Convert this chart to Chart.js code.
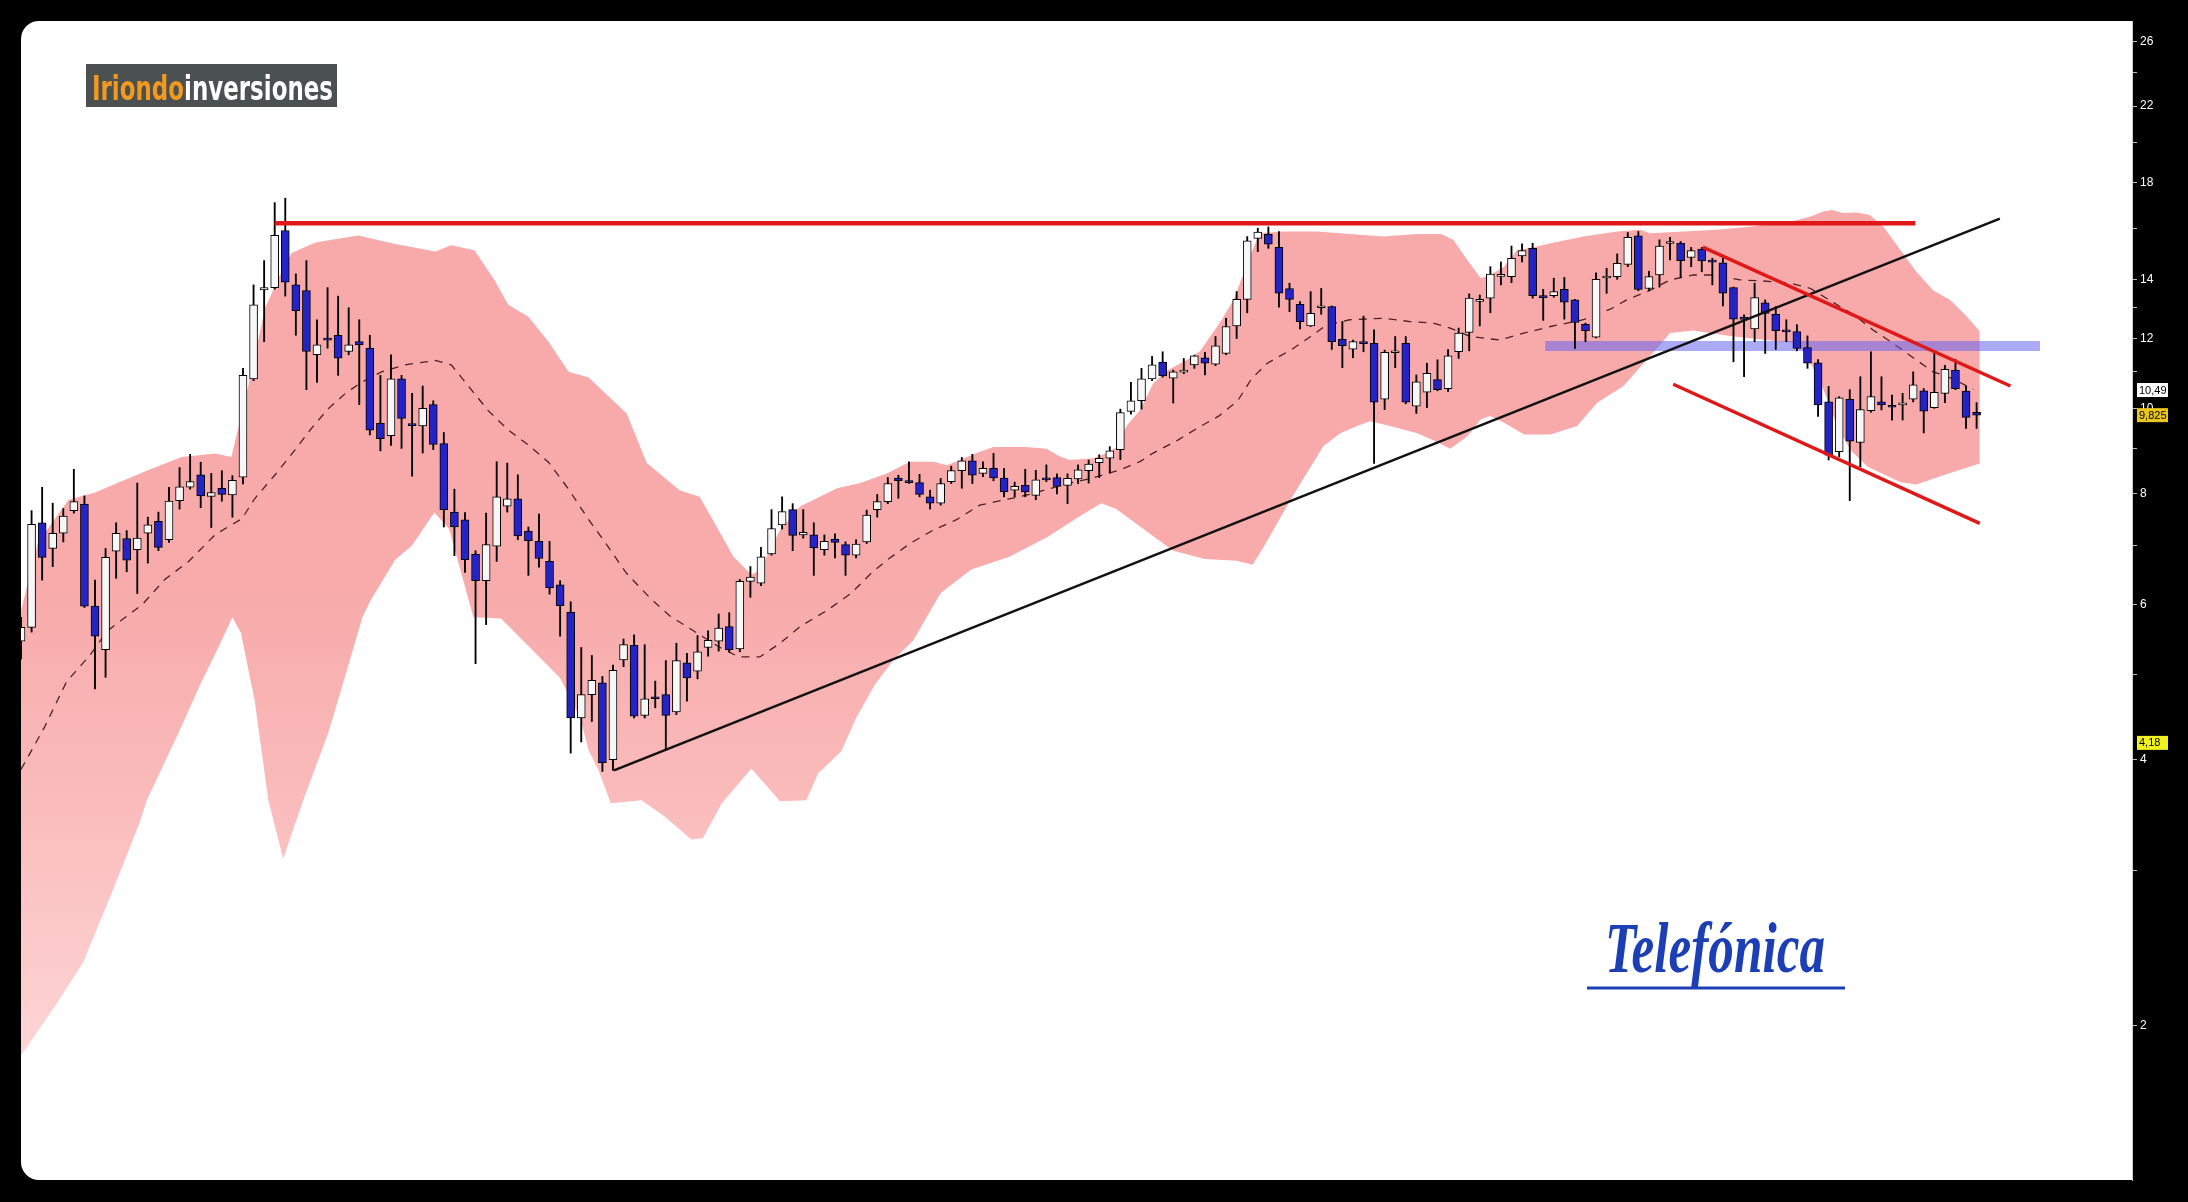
<!DOCTYPE html>
<html>
<head>
<meta charset="utf-8">
<title>Telefónica - Iriondo inversiones</title>
<script src="https://cdn.jsdelivr.net/npm/chart.js@4.4.1/dist/chart.umd.min.js"></script>
<style>
  html, body { margin: 0; padding: 0; background: #000; }
  #wrap { width: 2188px; height: 1202px; }
</style>
</head>
<body>
<div id="wrap"><canvas id="grafic" width="2188" height="1202"></canvas></div>
<script>
// Espelmes setmanals (obertura, màxim, mínim, tancament)
const obertures = [
  5.45, 5.65, 7.42, 6.94, 7.22, 7.66, 7.79, 5.97, 5.33, 6.89,
  7.12, 6.92, 7.22, 7.45, 7.10, 7.86, 8.14, 8.41, 7.95, 8.12,
  7.98, 8.36, 10.8, 13.62, 13.7, 15.9, 13.8, 13.6, 11.5, 12.0,
  12.1, 11.6, 11.9, 11.7, 9.62, 9.31, 10.8, 9.60, 9.55, 10.1,
  9.12, 7.63, 7.48, 6.84, 6.38, 6.98, 7.75, 7.90, 7.26, 7.07,
  6.71, 6.31, 5.88, 4.46, 4.74, 4.89, 4.00, 5.19, 5.39, 4.49,
  4.71, 4.74, 4.53, 5.15, 5.04, 5.36, 5.45, 5.66, 5.34, 6.37,
  6.34, 6.84, 7.38, 7.68, 7.19, 7.19, 6.92, 7.11, 7.01, 6.82,
  7.06, 7.68, 7.84, 8.34, 8.28, 8.24, 7.94, 7.81, 8.26, 8.50,
  8.72, 8.44, 8.55, 8.34, 8.08, 8.18, 7.97, 8.34, 8.35, 8.18,
  8.32, 8.50, 8.68, 8.78, 8.98, 9.92, 10.2, 10.8, 11.28, 10.82,
  10.99, 11.20, 11.41, 11.22, 11.54, 12.40, 13.29, 15.58, 15.74, 15.22,
  13.67, 13.12, 12.40, 13.0, 13.04, 11.97, 11.67, 11.86, 11.85, 10.24,
  11.56, 11.85, 10.06, 10.43, 10.78, 10.53, 11.59, 12.19, 13.22, 13.33,
  14.11, 14.10, 14.88, 15.18, 13.37, 13.42, 13.64, 13.27, 12.45, 12.04,
  14.05, 14.10, 14.56, 15.68, 13.67, 14.16, 15.37, 15.38, 14.82, 15.15,
  14.66, 14.62, 13.70, 12.63, 12.30, 13.17, 12.78, 12.23, 12.22, 11.72,
  11.26, 10.17, 8.93, 10.24, 9.15, 9.94, 10.17, 10.05, 10.09, 10.24,
  10.47, 10.02, 10.40, 11.05, 10.46, 9.90
];
const maxims = [
  5.80, 7.66, 8.14, 7.81, 7.70, 8.53, 7.96, 6.39, 6.94, 7.42,
  7.27, 8.23, 7.53, 7.63, 8.14, 8.57, 8.87, 8.69, 8.44, 8.50,
  8.39, 11.1, 13.8, 14.7, 17.1, 17.3, 14.2, 14.7, 12.6, 13.7,
  13.4, 13.0, 12.6, 12.1, 10.9, 11.5, 10.9, 10.4, 10.6, 10.2,
  9.39, 8.10, 7.62, 6.90, 7.61, 8.70, 8.67, 8.41, 7.34, 7.59,
  7.07, 6.38, 6.04, 5.36, 5.25, 4.97, 5.12, 5.48, 5.54, 5.40,
  4.91, 5.18, 5.42, 5.28, 5.53, 5.60, 5.85, 5.87, 6.40, 6.62,
  6.96, 7.68, 7.94, 7.80, 7.68, 7.42, 7.19, 7.21, 7.06, 7.10,
  7.67, 7.99, 8.35, 8.40, 8.70, 8.42, 8.08, 8.33, 8.60, 8.80,
  8.87, 8.70, 8.89, 8.55, 8.25, 8.53, 8.51, 8.63, 8.43, 8.43,
  8.63, 8.74, 8.86, 9.05, 9.98, 10.7, 11.1, 11.45, 11.59, 11.05,
  11.39, 11.49, 11.57, 12.06, 12.65, 13.56, 15.65, 16.0, 16.05, 15.86,
  13.86, 13.21, 13.56, 13.67, 13.06, 12.54, 11.95, 12.72, 12.27, 11.64,
  12.06, 12.06, 10.91, 11.25, 11.35, 11.66, 12.33, 13.48, 13.44, 14.47,
  14.65, 15.27, 15.36, 15.38, 13.64, 14.04, 14.07, 13.29, 12.49, 14.24,
  14.41, 14.96, 15.82, 15.86, 14.30, 15.52, 15.62, 15.45, 15.22, 15.22,
  14.79, 14.79, 13.72, 12.76, 13.86, 13.27, 13.04, 12.60, 12.44, 12.08,
  11.36, 10.59, 10.31, 10.50, 10.86, 11.59, 10.86, 10.35, 10.40, 11.00,
  10.53, 11.59, 11.19, 11.36, 10.59, 10.15
];
const minims = [
  5.20, 5.58, 6.39, 6.62, 7.06, 7.61, 5.95, 4.81, 4.96, 6.42,
  6.53, 6.17, 6.68, 6.90, 7.05, 7.69, 8.10, 7.72, 7.33, 7.85,
  7.53, 8.21, 10.75, 11.9, 13.65, 13.4, 12.1, 10.5, 10.7, 11.7,
  10.9, 11.5, 10.1, 9.33, 8.95, 9.08, 9.01, 8.38, 8.9, 8.98,
  7.34, 6.81, 6.52, 5.14, 5.69, 6.71, 7.63, 7.10, 6.47, 6.61,
  6.16, 5.52, 4.07, 4.19, 4.42, 3.88, 3.89, 5.10, 4.46, 4.46,
  4.58, 4.10, 4.50, 4.66, 4.94, 5.24, 5.31, 5.30, 5.30, 6.11,
  6.30, 6.82, 7.30, 6.90, 7.13, 6.47, 6.82, 6.77, 6.47, 6.77,
  7.03, 7.53, 7.80, 7.91, 8.22, 7.94, 7.69, 7.77, 8.22, 8.12,
  8.22, 8.37, 8.28, 7.94, 7.94, 7.94, 7.88, 8.26, 8.00, 7.80,
  8.22, 8.23, 8.35, 8.45, 8.75, 9.85, 9.98, 10.75, 10.85, 10.14,
  10.95, 11.10, 10.91, 11.18, 11.50, 12.00, 12.83, 15.05, 15.18, 13.02,
  12.87, 12.30, 12.38, 12.78, 11.66, 11.12, 11.41, 11.59, 8.66, 9.97,
  11.12, 10.12, 9.87, 10.02, 10.47, 10.45, 11.39, 11.62, 12.40, 12.83,
  13.80, 13.88, 14.65, 13.33, 12.58, 13.36, 12.62, 11.69, 11.90, 12.02,
  13.50, 14.00, 14.47, 13.59, 13.60, 13.72, 14.73, 14.07, 14.47, 14.28,
  13.80, 13.06, 11.29, 10.86, 11.90, 11.54, 11.66, 11.90, 11.62, 11.10,
  9.79, 8.74, 8.81, 7.86, 8.59, 9.90, 9.96, 9.70, 9.70, 10.17,
  9.38, 10.00, 10.15, 10.50, 9.49, 9.49
];
const tancaments = [
  5.65, 7.39, 6.78, 7.22, 7.55, 7.84, 5.97, 5.52, 6.78, 7.22,
  6.73, 7.13, 7.38, 6.96, 7.85, 8.15, 8.26, 7.96, 8.03, 7.99,
  8.29, 10.9, 13.1, 13.7, 15.7, 13.9, 12.9, 11.6, 11.8, 11.95,
  11.4, 11.8, 11.8, 9.45, 9.24, 10.8, 9.74, 9.56, 10.0, 9.10,
  7.68, 7.34, 6.74, 6.38, 7.01, 7.94, 7.90, 7.17, 7.08, 6.76,
  6.26, 5.98, 4.46, 4.74, 4.92, 3.97, 5.05, 5.40, 4.48, 4.69,
  4.69, 4.49, 5.18, 4.95, 5.30, 5.46, 5.64, 5.33, 6.37, 6.44,
  6.79, 7.31, 7.64, 7.18, 7.24, 6.95, 7.07, 7.05, 6.82, 7.02,
  7.57, 7.84, 8.22, 8.28, 8.24, 7.99, 7.81, 8.22, 8.50, 8.72,
  8.40, 8.55, 8.34, 8.04, 8.16, 8.04, 8.30, 8.30, 8.16, 8.33,
  8.52, 8.65, 8.78, 8.95, 9.89, 10.2, 10.8, 11.2, 10.88, 11.0,
  11.01, 11.47, 11.25, 11.77, 12.38, 13.29, 15.48, 15.84, 15.34, 13.50,
  13.29, 12.54, 12.81, 13.03, 11.90, 11.78, 11.90, 11.84, 10.16, 11.57,
  11.58, 10.16, 10.72, 10.96, 10.50, 11.47, 12.17, 13.33, 13.26, 14.19,
  14.13, 14.79, 15.09, 13.42, 13.35, 13.56, 13.19, 12.51, 12.25, 14.00,
  14.07, 14.60, 15.62, 13.64, 14.10, 15.27, 15.39, 14.70, 15.09, 14.69,
  14.64, 13.50, 12.62, 12.61, 13.35, 12.81, 12.25, 12.21, 11.69, 11.25,
  10.09, 8.85, 10.28, 9.18, 9.97, 10.31, 10.09, 10.03, 10.13, 10.63,
  9.93, 10.43, 11.07, 10.53, 9.77, 9.825
];

// Bandes de Bollinger llegides del gràfic: [setmana, valor]
const bandaSup = [
  [0, 5.9], [1.6, 7.05], [4.5, 7.88], [7, 8.03], [8.9, 8.21], [12, 8.51], [15.2, 8.81], [18.4, 8.89],
  [19.9, 8.81], [21.5, 10.6], [23.1, 13.0], [24.3, 14.0], [25.6, 15.0], [27.8, 15.4], [29.1, 15.5],
  [31.9, 15.7], [35.4, 15.35], [39.2, 15.05], [40.7, 15.3], [42.9, 15.1], [44.8, 13.97], [46.1, 13.1],
  [48, 12.7], [49.9, 11.9], [51.8, 11.0], [53.7, 10.84], [55.2, 10.42], [57.3, 9.87], [59.2, 8.67],
  [62.3, 8.08], [64.2, 7.94], [65.8, 7.35], [67.4, 6.79], [69.1, 6.48], [69.9, 6.56], [71.8, 7.28],
  [73.7, 7.74], [77.2, 8.12], [79.4, 8.23], [81.9, 8.44], [84.1, 8.70], [86.3, 8.70], [87.6, 8.62],
  [90.7, 8.93], [92, 9.04], [95.1, 9.04], [97, 9.0], [98.3, 8.82], [99.2, 8.74], [101.5, 8.78],
  [102.7, 8.90], [103.7, 9.04], [104.6, 9.56], [105.9, 9.97], [107.1, 10.67], [108.4, 11.03],
  [110.3, 11.35], [111.5, 11.6], [113.4, 12.49], [114.7, 13.27], [116.6, 15.22], [117.2, 15.79],
  [119.4, 15.86], [122.6, 15.86], [125.7, 15.76], [128.9, 15.65], [132.1, 15.76], [134.3, 15.76],
  [135.5, 15.52], [136.8, 14.73], [138.1, 14.04], [139, 14.16], [140.3, 14.47], [141.5, 15.1],
  [143.1, 15.22], [144.7, 15.38], [147.8, 15.65], [151, 15.86], [153.2, 15.93], [154.1, 15.79],
  [157.3, 15.86], [160.4, 15.93], [163.6, 16.06], [167.4, 16.27], [169.3, 16.49], [170.5, 16.71],
  [171.3, 16.78], [172.4, 16.64], [173.7, 16.67], [174.9, 16.56], [176.2, 16.06], [177.8, 15.1],
  [179.3, 14.28], [180.9, 13.6], [182.5, 13.27], [184.1, 12.7], [185.3, 12.22]
];
const bandaMitja = [
  [0, 3.9], [2.2, 4.35], [4.3, 4.9], [6.5, 5.25], [8.2, 5.6], [11.5, 6.0], [13.6, 6.4], [15.8, 6.7],
  [18.4, 7.2], [20.9, 7.5], [22.1, 7.9], [24, 8.4], [26, 9.0], [27.5, 9.5], [29.1, 10.0], [30.7, 10.4],
  [32.2, 10.7], [34.1, 11.0], [36.3, 11.2], [39.2, 11.33], [40.7, 11.2], [42.6, 10.5], [44.2, 9.94],
  [46.1, 9.45], [48, 9.09], [49.9, 8.69], [51.8, 8.10], [53.7, 7.48], [55, 7.12], [57.3, 6.50],
  [59.5, 6.1], [61.3, 5.83], [63.5, 5.61], [66, 5.37], [67.9, 5.23], [69.9, 5.23], [71.8, 5.42],
  [73.7, 5.66], [76.3, 5.91], [78.5, 6.17], [80.4, 6.50], [81.9, 6.73], [84.1, 7.03], [86.3, 7.28],
  [88.5, 7.48], [90.7, 7.77], [93.5, 7.9], [95.4, 7.99], [99, 8.22], [101.4, 8.34], [104, 8.52],
  [105.9, 8.71], [107.1, 8.9], [109.4, 9.2], [111.3, 9.5], [113.3, 9.8], [115.1, 10.2], [116.4, 10.8],
  [117.9, 11.25], [120.1, 11.64], [122, 12.06], [123.5, 12.43], [125.7, 12.60], [128.9, 12.65],
  [131.4, 12.54], [133.6, 12.49], [135.2, 12.33], [137.1, 12.06], [139.9, 11.95], [141.5, 12.11],
  [144.7, 12.38], [147.8, 12.60], [150.4, 12.96], [151.9, 13.27], [154.1, 13.6], [156, 13.98],
  [158.2, 14.16], [160.4, 14.16], [162.6, 13.98], [164.8, 13.94], [167.4, 13.86], [169.3, 13.67],
  [171.3, 13.21], [173.4, 12.76], [175.2, 12.27], [177.1, 11.85], [179, 11.41], [180.9, 11.0],
  [182.8, 10.8], [184.7, 10.5]
];
const bandaInf = [
  [0, 1.85], [3.3, 2.11], [5.9, 2.36], [8.6, 2.83], [11.2, 3.39], [11.9, 3.60], [14.9, 4.29],
  [17, 4.88], [18.7, 5.37], [20, 5.80], [20.8, 5.57], [22.1, 4.67], [23.4, 3.6], [24.8, 3.09],
  [26.7, 3.6], [29.1, 4.3], [30.5, 4.9], [32.3, 5.8], [33.1, 6.07], [35.4, 6.74], [37, 7.0],
  [39.1, 7.62], [40.5, 7.3], [42.8, 5.80], [45.4, 5.78], [48, 5.38], [51, 4.95], [52.9, 4.46],
  [53.7, 4.1], [54.6, 3.9], [55.8, 3.57], [58.7, 3.60], [60.9, 3.45], [63.4, 3.25], [64.5, 3.26],
  [66.3, 3.57], [69.1, 3.91], [71.8, 3.59], [74.3, 3.60], [75.4, 3.86], [77.6, 4.09], [79, 4.46],
  [80.8, 4.87], [82.6, 5.20], [84.4, 5.46], [87, 6.18], [89.9, 6.57], [93.5, 6.79], [97.1, 7.15],
  [100, 7.53], [102.2, 7.81], [103.6, 7.69], [106.8, 7.21], [109, 6.9], [112, 6.75], [115, 6.72],
  [116.5, 6.65], [117.5, 6.95], [120.1, 7.88], [122, 8.59], [123.2, 9.06], [124.8, 9.37],
  [126.4, 9.55], [127.6, 9.67], [129.5, 9.55], [132.1, 9.37], [133.6, 9.2], [135.2, 9.0],
  [136.8, 9.29], [138.1, 9.72], [139, 9.80], [140.3, 9.63], [142.2, 9.34], [144.7, 9.34],
  [147.2, 9.55], [149.1, 10.15], [151.6, 10.6], [153.2, 11.15], [154.1, 11.45], [156, 12.17],
  [158.2, 12.25], [162, 12.06], [165.1, 11.95], [168, 11.85], [169, 11.41], [170, 10.86],
  [170.9, 10.23], [171.8, 9.55], [173.1, 8.96], [174.7, 8.59], [177.8, 8.25], [179.3, 8.2],
  [182.5, 8.45], [185.3, 8.66]
];

// Línies de tendència: [setmana, preu]
const liniaSostre = [[24, 16.2], [179.2, 16.2]];
const liniaSuport = [[56.1, 3.89], [187.2, 16.4]];
const liniaBlava = [[144.2, 11.77], [191, 11.77]];
const canalSup = [[159.1, 15.23], [188.2, 10.60]];
const canalInf = [[156.3, 10.65], [185.3, 7.41]];

// Eix de preus
const ticksEtiqueta = [2, 4, 6, 8, 10, 12, 14, 18, 22, 26];
const ticksMenors = [3, 5, 7, 9, 11, 13, 16, 20, 24];
const etiquetesPreu = [10.49, 9.825, 4.18];

// Preparem les dades per al gràfic
const setmanes = obertures.map((_, i) => i);
const metxes = setmanes.map(i => ({ x: i, y: [minims[i], maxims[i]] }));
const cossos = setmanes.map(i => ({ x: i, y: [obertures[i], tancaments[i]] }));
const colorsCos = setmanes.map(i => tancaments[i] >= obertures[i] ? '#f7f7f7' : '#2424c6');
const aPunts = arr => arr.map(p => ({ x: p[0], y: p[1] }));

const liniaRecta = (punts, color, gruix, ordre) => ({
    type: 'line',
    data: aPunts(punts),
    borderColor: color,
    borderWidth: gruix,
    pointRadius: 0,
    fill: false,
    order: ordre
});

// Fons negre amb el panell blanc
const fons = {
    id: 'fons',
    beforeDraw(chart) {
        const c = chart.ctx;
        const a = chart.chartArea;
        c.save();
        c.fillStyle = '#000';
        c.fillRect(0, 0, chart.width, chart.height);
        c.fillStyle = '#fff';
        c.beginPath();
        c.roundRect(a.left, a.top, a.right - a.left + 1, a.bottom - a.top, [18, 0, 0, 18]);
        c.fill();
        c.restore();
    }
};

// Logotips i etiquetes de preu
const extres = {
    id: 'extres',
    afterDraw(chart) {
        const c = chart.ctx;
        c.save();

        // Iriondo inversiones
        c.fillStyle = '#4b5151';
        c.fillRect(86, 64, 251, 43);
        c.font = "bold 28px 'DejaVu Sans Condensed', 'Liberation Sans Narrow', sans-serif";
        const w1 = c.measureText('Iriondo').width;
        const w2 = c.measureText('inversiones').width;
        c.save();
        c.translate(92, 100);
        c.scale(241 / (w1 + w2), 1.18);
        c.textBaseline = 'alphabetic';
        c.fillStyle = '#f39a1e';
        c.fillText('Iriondo', 0, 0);
        c.fillStyle = '#fff';
        c.fillText('inversiones', w1, 0);
        c.restore();

        // Telefónica
        c.font = "italic bold 72px 'Liberation Serif', 'DejaVu Serif', serif";
        const wt = c.measureText('Telefónica').width;
        c.save();
        c.translate(1605, 972);
        c.scale(220 / wt, 1);
        c.fillStyle = '#1d3fb5';
        c.fillText('Telefónica', 0, 0);
        c.restore();
        c.strokeStyle = '#1d3fb5';
        c.lineWidth = 3;
        c.beginPath();
        c.moveTo(1587, 988);
        c.lineTo(1845, 988);
        c.stroke();

        // Etiquetes a l'eix
        const y = chart.scales.y;
        const fonsEtiqueta = ['#ffffff', '#e8c61a', '#f2f21e'];
        c.font = "11px 'Liberation Sans', Arial, sans-serif";
        c.textBaseline = 'middle';
        etiquetesPreu.forEach((v, k) => {
            const py = y.getPixelForValue(v);
            c.fillStyle = fonsEtiqueta[k];
            c.fillRect(2137, py - 7, 31, 14);
            c.fillStyle = '#000';
            c.fillText(String(v).replace('.', ','), 2139, py + 0.5);
        });
        c.restore();
    }
};

const ctx = document.getElementById('grafic').getContext('2d');
new Chart(ctx, {
    type: 'bar',
    data: {
        datasets: [
            {
                type: 'line',
                data: aPunts(bandaSup),
                borderWidth: 0,
                borderColor: 'rgba(0,0,0,0)',
                pointRadius: 0,
                fill: '+1',
                backgroundColor: (context) => {
                    const { chart } = context;
                    const a = chart.chartArea;
                    if (!a) return 'rgb(248,170,170)';
                    const g = chart.ctx.createLinearGradient(0, a.top, 0, a.bottom);
                    g.addColorStop(0, 'rgb(248,168,168)');
                    g.addColorStop(0.5, 'rgb(248,171,171)');
                    g.addColorStop(0.68, 'rgb(250,188,188)');
                    g.addColorStop(0.9, 'rgb(253,214,214)');
                    g.addColorStop(1, 'rgb(254,225,225)');
                    return g;
                },
                order: 20
            },
            {
                type: 'line',
                data: aPunts(bandaInf),
                borderWidth: 0,
                borderColor: 'rgba(0,0,0,0)',
                pointRadius: 0,
                fill: false,
                order: 19
            },
            {
                type: 'line',
                data: aPunts(bandaMitja),
                borderColor: '#4a2222',
                borderWidth: 1.3,
                borderDash: [8, 7],
                pointRadius: 0,
                fill: false,
                order: 18
            },
            liniaRecta(liniaBlava, 'rgba(100,100,240,0.55)', 10, 15),
            {
                data: metxes,
                backgroundColor: '#000',
                borderWidth: 0,
                barThickness: 1.2,
                grouped: false,
                clip: 0,
                order: 10
            },
            {
                data: cossos,
                backgroundColor: colorsCos,
                borderColor: '#000',
                borderWidth: 1,
                borderSkipped: false,
                barThickness: 8,
                minBarLength: 2,
                grouped: false,
                clip: 0,
                order: 9
            },
            liniaRecta(liniaSuport, '#111', 2.5, 3),
            liniaRecta(liniaSostre, '#e01818', 4.5, 2),
            liniaRecta(canalSup, '#e01818', 3.5, 2),
            liniaRecta(canalInf, '#e01818', 3.5, 2)
        ]
    },
    options: {
        responsive: false,
        animation: false,
        layout: { padding: { left: 21, top: 21, right: 0, bottom: 22 } },
        scales: {
            x: {
                type: 'linear',
                min: 0,
                max: 199.7,
                offset: false,
                display: false
            },
            y: {
                type: 'logarithmic',
                position: 'right',
                min: 1.337,
                max: 27.46,
                afterBuildTicks: axis => {
                    axis.ticks = ticksEtiqueta.concat(ticksMenors)
                        .sort((a, b) => a - b)
                        .map(v => ({ value: v }));
                },
                afterFit: axis => { axis.width = 56; },
                ticks: {
                    color: '#ffffff',
                    font: { family: "'Liberation Sans', Arial, sans-serif", size: 12 },
                    padding: 3,
                    autoSkip: false,
                    callback: v => ticksEtiqueta.includes(v) ? String(v) : ''
                },
                grid: { drawOnChartArea: false, drawTicks: true, tickLength: 5, color: '#bbbbbb' },
                border: { display: true, color: '#cccccc', width: 1 }
            }
        },
        plugins: {
            legend: { display: false },
            tooltip: { enabled: false }
        }
    },
    plugins: [fons, extres]
});
</script>
</body>
</html>
